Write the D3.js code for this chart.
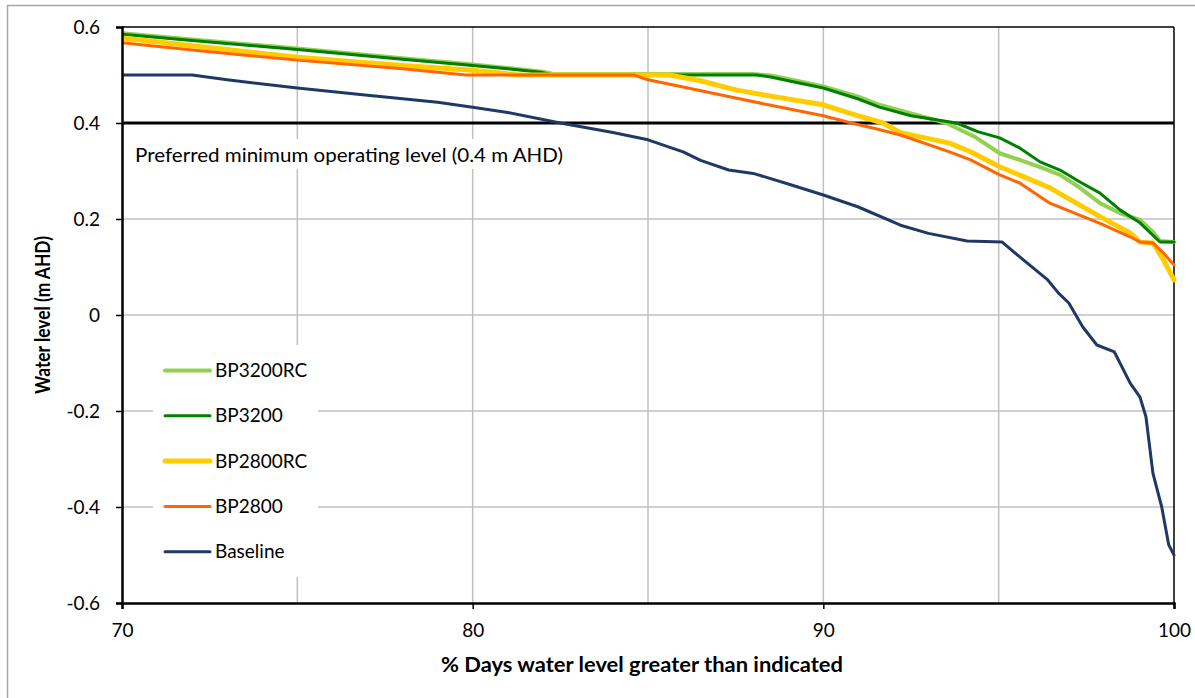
<!DOCTYPE html>
<html><head><meta charset="utf-8">
<script src="https://cdnjs.cloudflare.com/ajax/libs/d3/7.8.5/d3.min.js"></script>
<style>body{margin:0;background:#fff}svg{display:block}</style>
</head><body>
<script>
// ---- data ----
const seriesNames = ["BP3200RC", "BP3200", "BP2800RC", "BP2800", "Baseline"];
const seriesColors = ["#92D050", "#008000", "#FFCC00", "#FF6600", "#1F3864"];
const seriesWidths = [4, 3, 5, 3, 3];
const bp3200rc = [[70,0.587],[72,0.574],[75,0.555],[78,0.535],[80,0.522],[82,0.507],[82.3,0.502],[88.0,0.502],[88.5,0.499],[89,0.492],[90,0.476],[91,0.455],[91.6,0.438],[92.5,0.42],[93.5,0.4],[94.3,0.372],[95.03,0.337],[95.6,0.323],[96.18,0.308],[96.75,0.292],[97.32,0.265],[97.89,0.233],[98.46,0.212],[99.03,0.198],[99.4,0.173],[99.6,0.154],[100,0.152]];
const bp3200 = [[70,0.585],[72,0.572],[75,0.553],[78,0.533],[80,0.520],[81,0.513],[82,0.505],[82.3,0.5],[88.1,0.5],[88.5,0.496],[89,0.488],[90,0.473],[91,0.45],[91.6,0.433],[92.5,0.415],[93.8,0.4],[94.4,0.382],[95.03,0.369],[95.6,0.348],[96.18,0.319],[96.75,0.302],[97.32,0.277],[97.89,0.254],[98.46,0.219],[99.03,0.192],[99.6,0.152],[100,0.152]];
const bp2800rc = [[70,0.577],[72,0.561],[75,0.537],[78,0.52],[80,0.51],[81.3,0.5],[85.6,0.5],[86.5,0.488],[87.5,0.469],[88.5,0.456],[90,0.438],[91,0.415],[91.7,0.4],[92.2,0.38],[93.6,0.358],[94.2,0.34],[95.03,0.309],[96.46,0.265],[97.89,0.205],[98.75,0.171],[99.03,0.152],[99.4,0.15],[99.7,0.115],[100,0.073]];
const bp2800 = [[70,0.567],[72,0.552],[75,0.531],[78,0.513],[79.8,0.5],[84.6,0.5],[85,0.49],[86,0.475],[87.5,0.452],[88.5,0.437],[90,0.415],[90.8,0.4],[91.5,0.388],[92.2,0.375],[93.6,0.34],[94.2,0.323],[95.03,0.292],[95.6,0.275],[96.46,0.233],[97.89,0.191],[98.75,0.163],[99.03,0.152],[99.4,0.15],[99.7,0.129],[100,0.104]];
const baseline = [[70,0.5],[72,0.5],[73,0.49],[75,0.473],[77,0.458],[79,0.443],[80,0.433],[81,0.422],[82.5,0.4],[84,0.38],[85,0.365],[86,0.34],[86.5,0.322],[87.3,0.302],[88,0.295],[89,0.273],[90,0.25],[91,0.225],[92.2,0.187],[93,0.17],[94.1,0.154],[95.1,0.152],[95.6,0.121],[96.4,0.073],[96.7,0.046],[97.0,0.025],[97.4,-0.025],[97.8,-0.0625],[98.3,-0.077],[98.75,-0.142],[99.03,-0.171],[99.2,-0.212],[99.4,-0.33],[99.65,-0.4],[99.85,-0.479],[100,-0.5]];
const seriesData = [bp3200rc, bp3200, bp2800rc, bp2800, baseline];
const xTicks = [70, 80, 90, 100];
const xGrid = [75, 80, 85, 90, 95];
const yTicks = [-0.6, -0.4, -0.2, 0, 0.2, 0.4, 0.6];
const yTickLabels = ["-0.6", "-0.4", "-0.2", "0", "0.2", "0.4", "0.6"];
const refLevel = 0.4;
const refLabel = "Preferred minimum operating level (0.4 m AHD)";
const xTitle = "% Days water level greater than indicated";
const yTitle = "Water level (m AHD)";

// ---- layout ----
const W = 1195, H = 698;
const L = 122, R = 1174, T = 27, B = 603;
const FONT = "Lato, 'Open Sans', sans-serif";

const svg = d3.select("body").append("svg").attr("width", W).attr("height", H);
svg.append("rect").attr("x", 7.5).attr("y", 5.5).attr("width", 1200).attr("height", 720)
  .attr("fill", "#fff").attr("stroke", "#a6a6a6").attr("stroke-width", 1.5);

const x = d3.scaleLinear().domain([70, 100]).range([L, R]);
const y = d3.scaleLinear().domain([-0.6, 0.6]).range([B, T]);

// gridlines
svg.append("g").selectAll("line").data(yTicks.filter(d => d > -0.6 && d < 0.6 && d !== refLevel))
  .join("line").attr("x1", L).attr("x2", R).attr("y1", d => y(d)).attr("y2", d => y(d))
  .attr("stroke", "#c0c0c0").attr("stroke-width", 1.5);
svg.append("g").selectAll("line").data(xGrid)
  .join("line").attr("x1", d => x(d)).attr("x2", d => x(d)).attr("y1", T).attr("y2", B)
  .attr("stroke", "#c0c0c0").attr("stroke-width", 1.5);

// plot border top/right
svg.append("line").attr("x1", L).attr("x2", R).attr("y1", T).attr("y2", T).attr("stroke", "#000").attr("stroke-width", 1.5);
svg.append("line").attr("x1", R).attr("x2", R).attr("y1", T).attr("y2", B).attr("stroke", "#000").attr("stroke-width", 1.5);

// annotation box
const annG = svg.append("g");
const annText = annG.append("text").attr("x", 135).attr("y", y(refLevel) + 39)
  .attr("font-family", FONT).attr("font-size", 20).attr("fill", "#000")
  .attr("textLength", 428).attr("lengthAdjust", "spacingAndGlyphs").text(refLabel);
const bb = annText.node().getBBox();
annG.insert("rect", "text").attr("x", bb.x - 6).attr("y", bb.y - 3).attr("width", bb.width + 12).attr("height", bb.height + 6).attr("fill", "#fff");

// reference line
svg.append("line").attr("x1", L).attr("x2", R).attr("y1", y(refLevel)).attr("y2", y(refLevel))
  .attr("stroke", "#000").attr("stroke-width", 3);

// legend box
const legRow = 45.3;
svg.append("rect").attr("x", 153).attr("y", 345).attr("width", 165).attr("height", 232).attr("fill", "#fff");

// series
svg.append("clipPath").attr("id", "clip").append("rect").attr("x", L).attr("y", T - 5).attr("width", R - L + 3).attr("height", B - T + 5);
const line = d3.line().x(d => x(d[0])).y(d => y(d[1]));
const gLines = svg.append("g").attr("clip-path", "url(#clip)");
seriesData.forEach((s, i) => {
  gLines.append("path").attr("d", line(s)).attr("fill", "none")
    .attr("stroke", seriesColors[i]).attr("stroke-width", seriesWidths[i])
    .attr("stroke-linejoin", "round").attr("stroke-linecap", "round");
});

// axes
const yAxis = d3.axisLeft(y).tickValues(yTicks).tickSize(6).tickFormat((d, i) => yTickLabels[i]);
const gy = svg.append("g").attr("transform", `translate(${L},0)`).call(yAxis);
gy.select(".domain").attr("stroke-width", 2.5);
gy.selectAll(".tick line").attr("stroke-width", 1.5);
gy.selectAll(".tick text").attr("font-family", FONT).attr("font-size", 19).attr("x", -22).attr("fill", "#000");

const xAxis = d3.axisBottom(x).tickValues(xTicks).tickSize(6).tickFormat(d3.format("d"));
const gx = svg.append("g").attr("transform", `translate(0,${B})`).call(xAxis);
gx.select(".domain").attr("stroke-width", 2.5);
gx.selectAll(".tick line").attr("stroke-width", 1.5);
gx.selectAll(".tick text").attr("font-family", FONT).attr("font-size", 19).attr("y", 21).attr("fill", "#000");

// titles
svg.append("text").attr("x", 642).attr("y", 672).attr("text-anchor", "middle")
  .attr("font-family", FONT).attr("font-weight", "bold").attr("font-size", 20)
  .attr("textLength", 402).attr("lengthAdjust", "spacingAndGlyphs").text(xTitle);
svg.append("text").attr("transform", `translate(50,${(T + B) / 2}) rotate(-90)`).attr("text-anchor", "middle")
  .attr("font-family", FONT).attr("font-weight", "bold").attr("font-size", 20.5)
  .attr("textLength", 158).attr("lengthAdjust", "spacingAndGlyphs").text(yTitle);

// legend
const lg = svg.append("g");
seriesNames.forEach((n, i) => {
  const cy = 370.5 + i * legRow;
  lg.append("line").attr("x1", 165).attr("x2", 210).attr("y1", cy).attr("y2", cy)
    .attr("stroke", seriesColors[i]).attr("stroke-width", seriesWidths[i]).attr("stroke-linecap", "round");
  lg.append("text").attr("x", 215).attr("y", cy).attr("dy", "0.35em")
    .attr("font-family", FONT).attr("font-size", 19).text(n);
});
</script>
</body></html>
